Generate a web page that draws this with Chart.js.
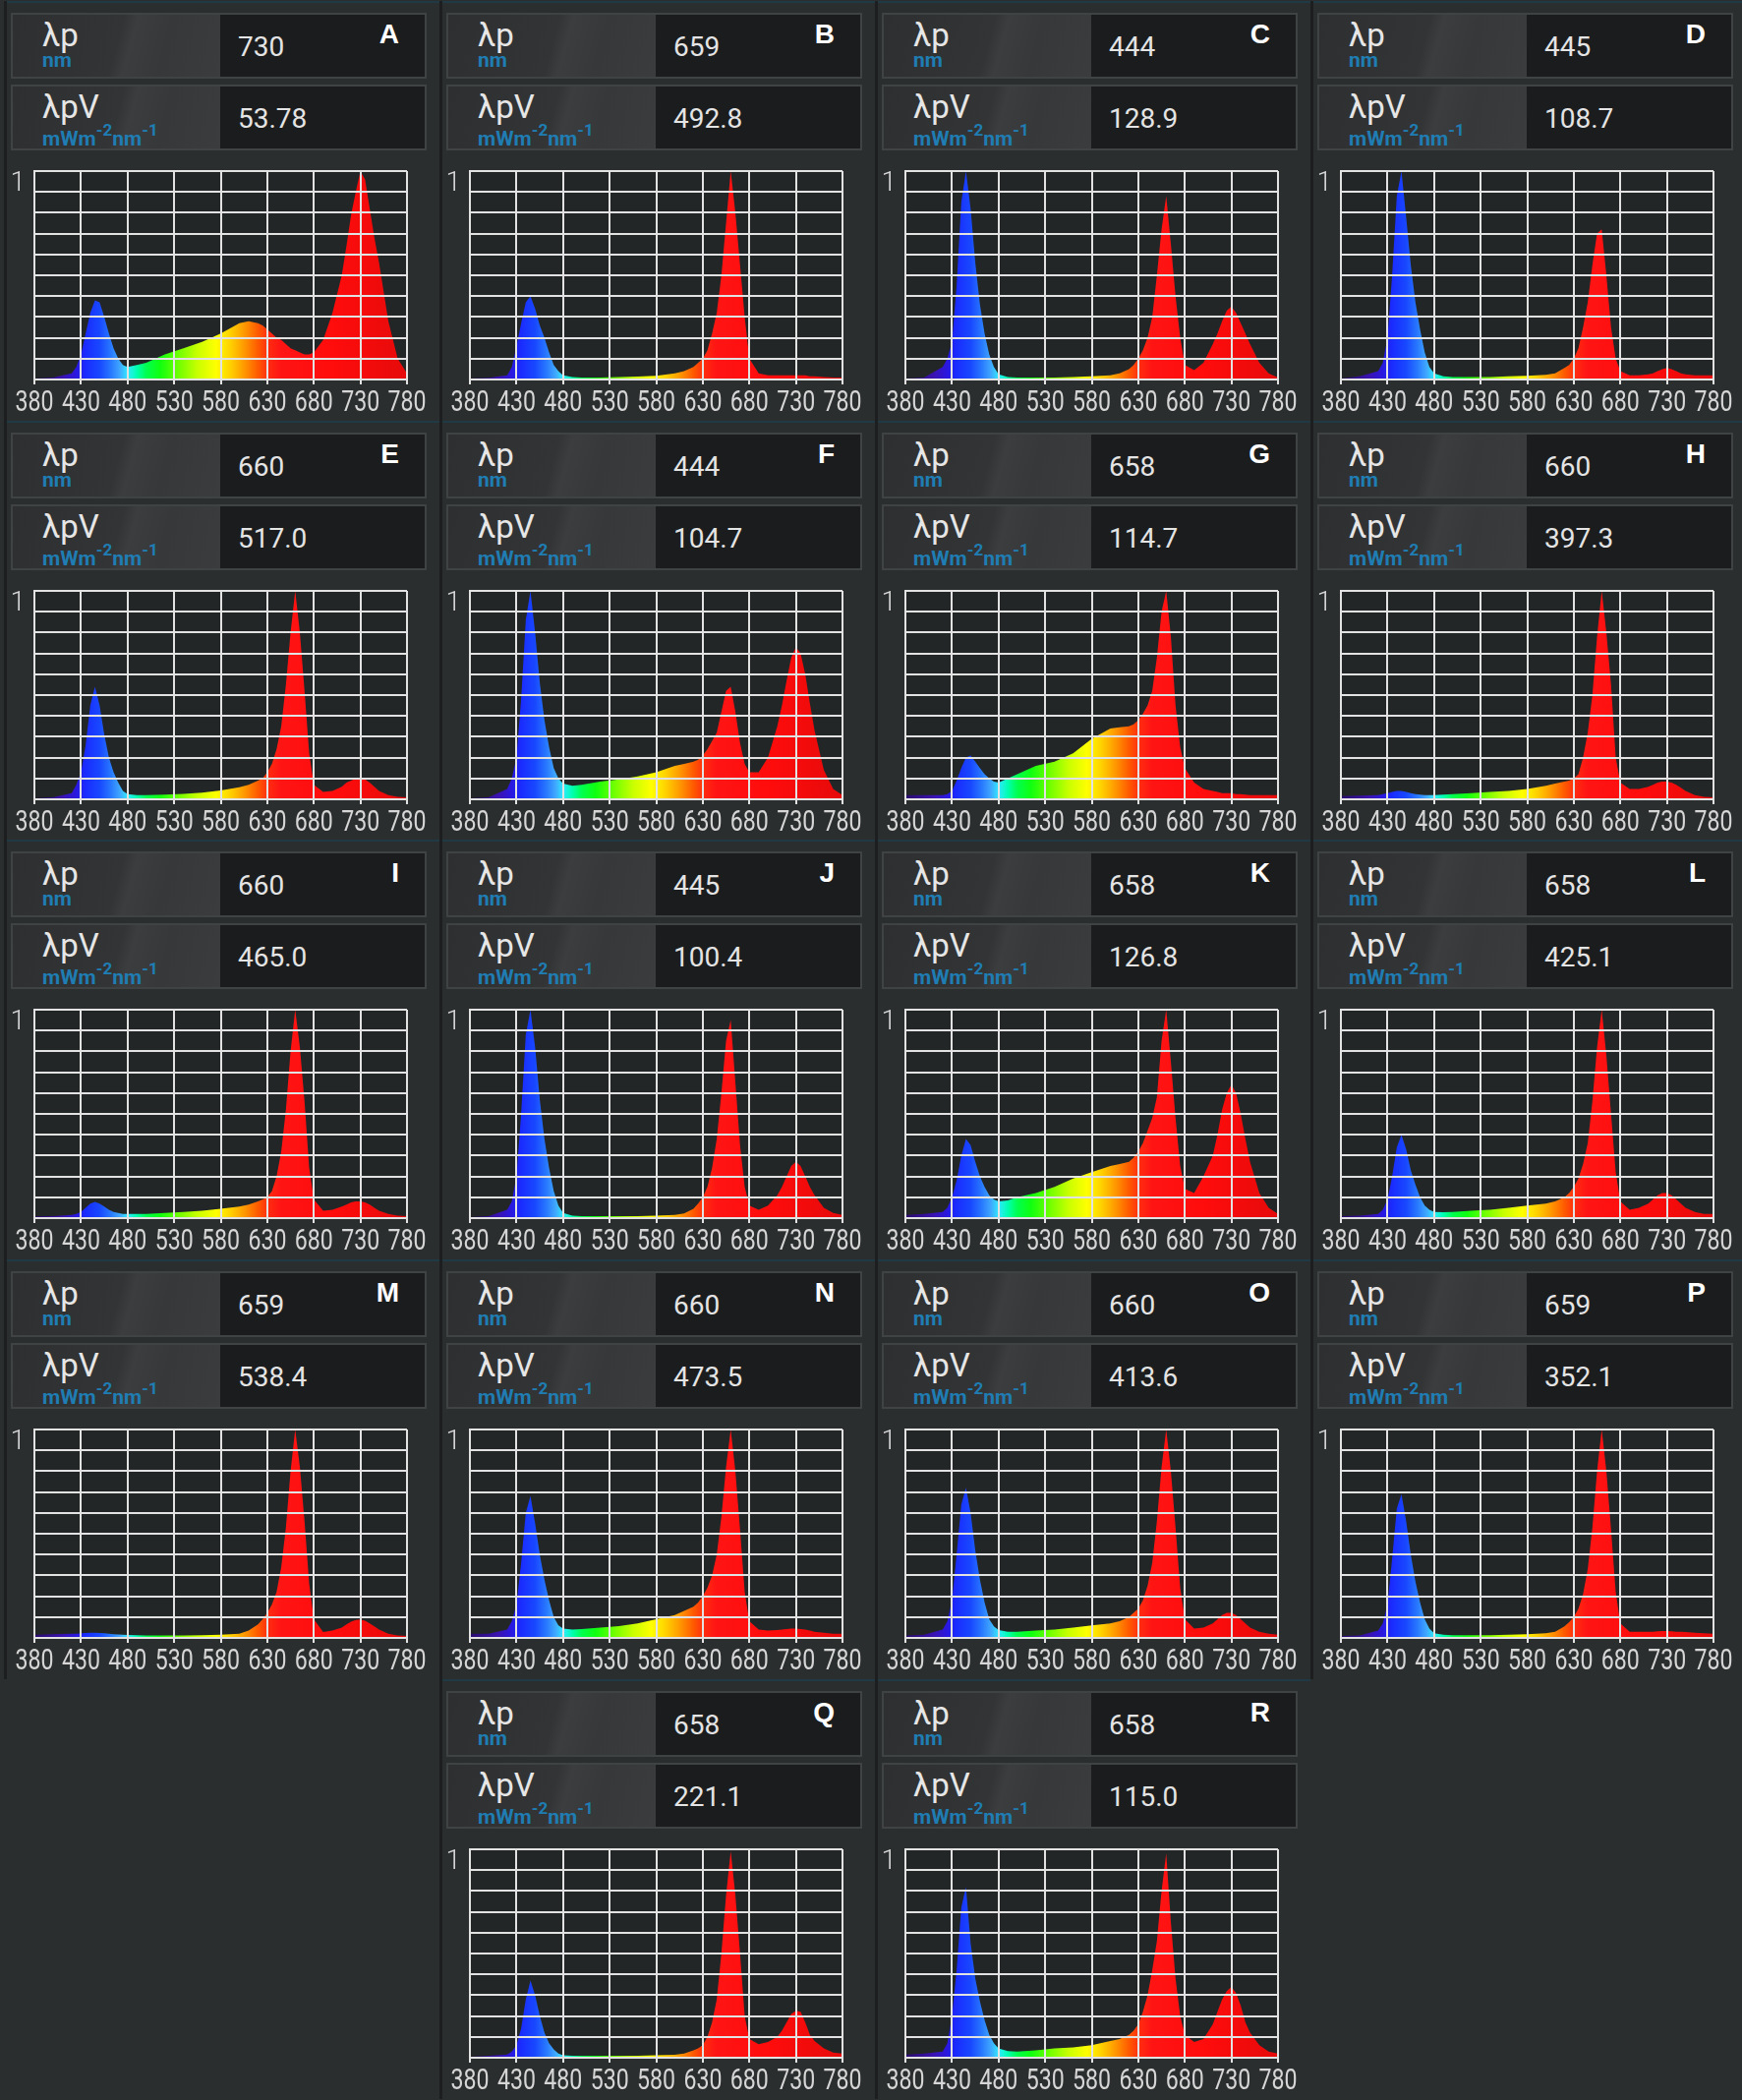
<!DOCTYPE html>
<html>
<head>
<meta charset="utf-8">
<title>LED spectra A-R</title>
<script src="https://cdn.jsdelivr.net/npm/chart.js@4.4.1/dist/chart.umd.min.js"></script>
<style>
  html, body { margin: 0; padding: 0; }
  body {
    width: 1772px; height: 2136px; position: relative; overflow: hidden;
    background: #2b2e2f; font-family: Roboto, "Liberation Sans", sans-serif;
  }
  .panel {
    position: absolute; width: 443px; height: 427px;
    box-shadow: inset 3px 0 0 #1c1e1f, inset 0 2px 0 #1f3a45;
  }
  .box {
    position: absolute; left: 7px; width: 423px; height: 67px; box-sizing: border-box;
    border: 2px solid #3f4344; background: #1b1c1d;
  }
  .box .lab {
    position: absolute; left: 0; top: 0; bottom: 0; width: 211px;
    background: linear-gradient(105deg, #2d2f30 0%, #323435 50%, #3b3d3e 56%, #36383a 72%, #3a3c3d 100%);
  }
  .sym { position: absolute; left: 30px; top: 4px; font-size: 33px; line-height: 1; color: #e6e6e6; white-space: nowrap; }
  .unit { position: absolute; left: 30px; top: 36px; font-size: 21px; line-height: 1; font-weight: bold; color: #1f7db3; white-space: nowrap; }
  .unit sup { font-size: 17px; vertical-align: 10px; line-height: 1; }
  .val { position: absolute; left: 229px; top: 19px; font-size: 28px; line-height: 1; color: #e4e4e4; }
  .letter { position: absolute; right: 26px; top: 6px; font: bold 28px "Liberation Sans", Arial, sans-serif; line-height: 1; color: #ffffff; }
  .plot { position: absolute; left: 0; top: 150px; width: 443px; height: 270px; }
</style>
</head>
<body>
<script>
// panel labels and header readings
const letters = ['A', 'B', 'C', 'D', 'E', 'F', 'G', 'H', 'I', 'J', 'K', 'L', 'M', 'N', 'O', 'P', 'Q', 'R'];
const peakNm = ['730', '659', '444', '445', '660', '444', '658', '660', '660', '445', '658', '658', '659', '660', '660', '659', '658', '658'];
const peakValue = ['53.78', '492.8', '128.9', '108.7', '517.0', '104.7', '114.7', '397.3', '465.0', '100.4', '126.8', '425.1', '538.4', '473.5', '413.6', '352.1', '221.1', '115.0'];

// axis ticks
const xTicks = [380, 430, 480, 530, 580, 630, 680, 730, 780];
const yTicks = [0, 0.1, 0.2, 0.3, 0.4, 0.5, 0.6, 0.7, 0.8, 0.9, 1];

// sample wavelengths (nm), shared by every spectrum
const wavelengths = [380, 400, 420,
    425, 430, 435, 440, 445, 450, 455, 460, 465, 470, 475, 480,
    490, 500, 520, 540, 560, 580, 600, 610, 620,
    625, 630, 635, 640, 645, 650, 655, 660, 665, 670, 675, 680,
    690, 700, 710,
    715, 720, 725, 730, 735, 740, 745, 750,
    760, 770, 780];

// relative spectral irradiance
const specA = [0.005, 0.01, 0.03,
    0.06, 0.12, 0.22, 0.32, 0.38, 0.37, 0.30, 0.22, 0.15, 0.10, 0.07, 0.06,
    0.07, 0.08, 0.12, 0.15, 0.18, 0.22, 0.27, 0.28, 0.27,
    0.26, 0.24, 0.22, 0.20, 0.19, 0.17, 0.15, 0.14, 0.13, 0.12, 0.12, 0.13,
    0.19, 0.32, 0.50,
    0.64, 0.79, 0.90, 1.00, 0.96, 0.82, 0.68, 0.56,
    0.28, 0.10, 0.03];
const specB = [0.005, 0.008, 0.02,
    0.06, 0.16, 0.27, 0.37, 0.40, 0.34, 0.26, 0.20, 0.13, 0.07, 0.04, 0.02,
    0.012, 0.01, 0.01, 0.012, 0.014, 0.018, 0.03, 0.04, 0.06,
    0.08, 0.10, 0.14, 0.22, 0.32, 0.50, 0.75, 1.00, 0.80, 0.55, 0.30, 0.10,
    0.03, 0.02, 0.02,
    0.02, 0.02, 0.02, 0.02, 0.02, 0.02, 0.015, 0.015,
    0.012, 0.01, 0.01];
const specC = [0.005, 0.01, 0.06,
    0.10, 0.18, 0.45, 0.85, 1.00, 0.82, 0.56, 0.36, 0.22, 0.12, 0.06, 0.025,
    0.012, 0.01, 0.01, 0.01, 0.012, 0.015, 0.02, 0.03, 0.05,
    0.07, 0.10, 0.14, 0.20, 0.30, 0.50, 0.72, 0.88, 0.65, 0.40, 0.20, 0.07,
    0.045, 0.08, 0.17,
    0.22, 0.28, 0.33, 0.35, 0.32, 0.27, 0.22, 0.17,
    0.08, 0.03, 0.01];
const specD = [0.005, 0.015, 0.04,
    0.08, 0.20, 0.50, 0.88, 1.00, 0.78, 0.55, 0.37, 0.24, 0.13, 0.06, 0.03,
    0.015, 0.012, 0.012, 0.012, 0.015, 0.018, 0.022, 0.03, 0.055,
    0.07, 0.10, 0.15, 0.25, 0.37, 0.55, 0.70, 0.72, 0.50, 0.25, 0.10, 0.04,
    0.02, 0.02, 0.025,
    0.03, 0.04, 0.05, 0.055, 0.05, 0.04, 0.03, 0.025,
    0.02, 0.02, 0.02];
const specE = [0.005, 0.01, 0.03,
    0.07, 0.13, 0.26, 0.45, 0.54, 0.45, 0.31, 0.20, 0.13, 0.08, 0.04, 0.025,
    0.02, 0.02, 0.022, 0.026, 0.032, 0.042, 0.058, 0.07, 0.09,
    0.10, 0.13, 0.17, 0.24, 0.35, 0.55, 0.80, 1.00, 0.80, 0.52, 0.22, 0.07,
    0.035, 0.04, 0.06,
    0.08, 0.09, 0.10, 0.10, 0.095, 0.08, 0.06, 0.04,
    0.02, 0.012, 0.01];
const specF = [0.005, 0.01, 0.05,
    0.10, 0.20, 0.48, 0.86, 1.00, 0.80, 0.56, 0.38, 0.25, 0.15, 0.10, 0.075,
    0.065, 0.07, 0.085, 0.095, 0.11, 0.13, 0.16, 0.17, 0.18,
    0.19, 0.21, 0.24, 0.28, 0.32, 0.42, 0.52, 0.54, 0.42, 0.27, 0.17, 0.13,
    0.13, 0.20, 0.35,
    0.45, 0.57, 0.68, 0.73, 0.70, 0.60, 0.46, 0.33,
    0.14, 0.05, 0.02];
const specG = [0.02, 0.02, 0.02,
    0.025, 0.04, 0.09, 0.15, 0.20, 0.21, 0.18, 0.15, 0.12, 0.10, 0.085, 0.08,
    0.10, 0.12, 0.16, 0.18, 0.22, 0.29, 0.34, 0.345, 0.35,
    0.36, 0.38, 0.41, 0.45, 0.52, 0.68, 0.90, 1.00, 0.78, 0.45, 0.25, 0.15,
    0.08, 0.05, 0.04,
    0.035, 0.03, 0.03, 0.03, 0.025, 0.025, 0.022, 0.02,
    0.02, 0.02, 0.02];
const specH = [0.015, 0.018, 0.02,
    0.025, 0.03, 0.035, 0.04, 0.04, 0.035, 0.03, 0.025, 0.022, 0.02, 0.02, 0.02,
    0.022, 0.025, 0.03, 0.035, 0.04, 0.05, 0.065, 0.075, 0.085,
    0.09, 0.10, 0.12, 0.20, 0.32, 0.50, 0.78, 1.00, 0.80, 0.55, 0.20, 0.08,
    0.05, 0.05, 0.06,
    0.07, 0.08, 0.085, 0.085, 0.08, 0.07, 0.055, 0.04,
    0.02, 0.012, 0.01];
const specI = [0.008, 0.01, 0.015,
    0.02, 0.03, 0.05, 0.07, 0.078, 0.07, 0.055, 0.04, 0.03, 0.025, 0.02, 0.02,
    0.02, 0.02, 0.025, 0.03, 0.035, 0.045, 0.055, 0.065, 0.08,
    0.09, 0.10, 0.13, 0.20, 0.32, 0.52, 0.80, 1.00, 0.82, 0.56, 0.24, 0.09,
    0.035, 0.04, 0.055,
    0.065, 0.075, 0.08, 0.08, 0.075, 0.065, 0.05, 0.035,
    0.02, 0.012, 0.01];
const specJ = [0.005, 0.01, 0.04,
    0.08, 0.20, 0.50, 0.88, 1.00, 0.82, 0.57, 0.38, 0.24, 0.13, 0.06, 0.025,
    0.012, 0.01, 0.01, 0.01, 0.01, 0.012, 0.015, 0.022, 0.045,
    0.07, 0.10, 0.15, 0.24, 0.38, 0.60, 0.85, 0.95, 0.65, 0.35, 0.15, 0.06,
    0.04, 0.06, 0.11,
    0.15, 0.20, 0.25, 0.27, 0.25, 0.20, 0.15, 0.11,
    0.05, 0.025, 0.015];
const specK = [0.015, 0.02, 0.03,
    0.05, 0.10, 0.18, 0.30, 0.38, 0.35, 0.27, 0.20, 0.15, 0.11, 0.09, 0.08,
    0.085, 0.10, 0.12, 0.15, 0.19, 0.22, 0.25, 0.26, 0.27,
    0.29, 0.32, 0.36, 0.42, 0.48, 0.58, 0.85, 1.00, 0.75, 0.48, 0.25, 0.14,
    0.12, 0.20, 0.30,
    0.40, 0.52, 0.60, 0.64, 0.60, 0.50, 0.38, 0.27,
    0.12, 0.05, 0.02];
const specL = [0.01, 0.012, 0.02,
    0.04, 0.09, 0.20, 0.34, 0.40, 0.33, 0.23, 0.16, 0.10, 0.06, 0.04, 0.03,
    0.028, 0.03, 0.035, 0.04, 0.05, 0.06, 0.07, 0.08, 0.10,
    0.12, 0.15, 0.19, 0.26, 0.36, 0.56, 0.82, 1.00, 0.78, 0.50, 0.22, 0.08,
    0.04, 0.05, 0.07,
    0.09, 0.11, 0.12, 0.12, 0.11, 0.09, 0.07, 0.05,
    0.03, 0.02, 0.02];
const specM = [0.015, 0.018, 0.02,
    0.02, 0.022, 0.024, 0.025, 0.025, 0.024, 0.022, 0.02, 0.018, 0.016, 0.015, 0.014,
    0.013, 0.012, 0.012, 0.012, 0.013, 0.015, 0.02, 0.035, 0.065,
    0.09, 0.12, 0.16, 0.22, 0.34, 0.53, 0.80, 1.00, 0.82, 0.56, 0.26, 0.09,
    0.028, 0.035, 0.05,
    0.065, 0.078, 0.086, 0.088, 0.083, 0.07, 0.055, 0.04,
    0.02, 0.012, 0.01];
const specN = [0.02, 0.02, 0.04,
    0.08, 0.16, 0.36, 0.60, 0.68, 0.55, 0.40, 0.28, 0.18, 0.10, 0.06, 0.045,
    0.04, 0.042, 0.05, 0.057, 0.07, 0.09, 0.11, 0.13, 0.15,
    0.17, 0.20, 0.24, 0.30, 0.40, 0.58, 0.82, 1.00, 0.80, 0.52, 0.22, 0.08,
    0.04, 0.035, 0.038,
    0.04, 0.043, 0.045, 0.045, 0.043, 0.04, 0.035, 0.03,
    0.025, 0.02, 0.02];
const specO = [0.012, 0.015, 0.04,
    0.08, 0.18, 0.40, 0.64, 0.72, 0.60, 0.42, 0.28, 0.17, 0.09, 0.055, 0.038,
    0.03, 0.03, 0.035, 0.04, 0.05, 0.06, 0.07, 0.08, 0.10,
    0.12, 0.14, 0.18, 0.25, 0.36, 0.56, 0.82, 1.00, 0.80, 0.53, 0.24, 0.09,
    0.045, 0.05, 0.07,
    0.09, 0.11, 0.12, 0.12, 0.11, 0.09, 0.07, 0.05,
    0.03, 0.02, 0.015];
const specP = [0.01, 0.012, 0.035,
    0.07, 0.16, 0.38, 0.62, 0.69, 0.56, 0.40, 0.27, 0.17, 0.09, 0.045, 0.022,
    0.015, 0.013, 0.013, 0.013, 0.015, 0.018, 0.022, 0.03, 0.055,
    0.075, 0.10, 0.14, 0.21, 0.33, 0.53, 0.80, 1.00, 0.80, 0.52, 0.22, 0.07,
    0.03, 0.03, 0.03,
    0.03, 0.032, 0.033, 0.033, 0.032, 0.03, 0.03, 0.028,
    0.025, 0.022, 0.02];
const specQ = [0.005, 0.01, 0.015,
    0.03, 0.06, 0.14, 0.28, 0.37, 0.30, 0.20, 0.12, 0.07, 0.04, 0.02, 0.012,
    0.01, 0.01, 0.01, 0.01, 0.01, 0.012, 0.014, 0.02, 0.035,
    0.045, 0.06, 0.10, 0.17, 0.28, 0.50, 0.78, 0.99, 0.78, 0.50, 0.20, 0.09,
    0.065, 0.075, 0.10,
    0.13, 0.17, 0.21, 0.225, 0.22, 0.17, 0.11, 0.08,
    0.045, 0.025, 0.02];
const specR = [0.015, 0.02, 0.03,
    0.07, 0.20, 0.42, 0.72, 0.82, 0.55, 0.38, 0.27, 0.18, 0.11, 0.07, 0.045,
    0.032, 0.03, 0.035, 0.045, 0.05, 0.06, 0.08, 0.09, 0.11,
    0.13, 0.16, 0.22, 0.30, 0.42, 0.56, 0.80, 0.98, 0.65, 0.38, 0.20, 0.11,
    0.075, 0.09, 0.16,
    0.22, 0.28, 0.32, 0.34, 0.31, 0.25, 0.17, 0.12,
    0.06, 0.03, 0.02];

const spectra = [specA, specB, specC, specD, specE, specF, specG, specH, specI,
    specJ, specK, specL, specM, specN, specO, specP, specQ, specR];

// colour of the fill under the curve, by wavelength
const spectrumStops = [
    [380, '#2a0c6a'], [410, '#3a12b0'], [425, '#2a18e0'], [435, '#1a2cff'],
    [450, '#1848ff'], [462, '#2878ff'], [472, '#40a8ff'], [480, '#30e8ff'],
    [490, '#00ffb0'], [500, '#00ff50'], [515, '#10ff10'], [535, '#70ff00'],
    [555, '#c8ff00'], [575, '#ffff00'], [590, '#ffd200'], [605, '#ff9a00'],
    [620, '#ff5a00'], [632, '#ff2a10'], [645, '#ff1414'], [700, '#ff0c0c'],
    [780, '#e60a0a']
];

const lineColor = '#e2e2e2';
const labelColor = '#d6d6d6';
const labelFamily = 'Roboto, "Liberation Sans", sans-serif';
const tickFont = { family: labelFamily, size: 28, weight: '300', lineHeight: 1 };

function spectrumFill(context) {
    const chart = context.chart;
    if (!chart.chartArea) return '#ff0000';
    const x = chart.scales.x;
    const x0 = x.getPixelForValue(380);
    const x1 = x.getPixelForValue(780);
    const g = chart.ctx.createLinearGradient(x0, 0, x1, 0);
    spectrumStops.forEach(function (s) {
        g.addColorStop((s[0] - 380) / 400, s[1]);
    });
    return g;
}

const plotBackground = {
    id: 'plotBackground',
    beforeDraw: function (chart) {
        const a = chart.chartArea;
        chart.ctx.save();
        chart.ctx.fillStyle = '#232626';
        chart.ctx.fillRect(a.left, a.top, a.right - a.left, a.bottom - a.top);
        chart.ctx.restore();
    }
};

// the wavelength labels are tall and narrow: draw the axis ticks squeezed horizontally
const narrowXLabels = {
    id: 'narrowXLabels',
    afterDraw: function (chart) {
        const scale = chart.scales.x;
        const ctx = chart.ctx;
        const y = chart.chartArea.bottom + 25;
        ctx.save();
        ctx.font = '29px ' + labelFamily;
        ctx.fillStyle = labelColor;
        ctx.textAlign = 'center';
        ctx.textBaseline = 'middle';
        scale.ticks.forEach(function (t) {
            const text = String(t.value);
            const sx = Math.min(1, 39 / ctx.measureText(text).width);
            ctx.save();
            ctx.translate(scale.getPixelForValue(t.value), y);
            ctx.scale(sx, 1);
            ctx.fillText(text, 0, 0);
            ctx.restore();
        });
        ctx.restore();
    }
};

function headerBox(top, symHtml, unitHtml, value, letter) {
    let html = '<div class="box" style="top:' + top + 'px"><div class="lab"></div>' +
        '<div class="sym">' + symHtml + '</div>' +
        '<div class="unit">' + unitHtml + '</div>' +
        '<div class="val">' + value + '</div>';
    if (letter) html += '<div class="letter">' + letter + '</div>';
    return html + '</div>';
}

letters.forEach(function (letter, i) {
    // 4 x 4 grid, then Q and R centred in the last row
    const col = i < 16 ? i % 4 : i - 15;
    const row = i < 16 ? Math.floor(i / 4) : 4;

    const panel = document.createElement('div');
    panel.className = 'panel';
    panel.style.left = (4 + col * 443) + 'px';
    panel.style.top = Math.round(1 + row * 426.7) + 'px';
    panel.innerHTML =
        headerBox(12, 'λp', 'nm', peakNm[i], letter) +
        headerBox(85, 'λpV', 'mWm<sup>-2</sup>nm<sup>-1</sup>', peakValue[i], '') +
        '<div class="plot"><canvas></canvas></div>';
    document.body.appendChild(panel);

    const spec = spectra[i];
    const ctx = panel.querySelector('canvas').getContext('2d');
    new Chart(ctx, {
        type: 'line',
        data: {
            datasets: [{
                data: wavelengths.map(function (w, k) { return { x: w, y: spec[k] }; }),
                fill: 'origin',
                backgroundColor: spectrumFill,
                borderWidth: 0,
                pointRadius: 0,
                tension: 0
            }]
        },
        options: {
            responsive: true,
            maintainAspectRatio: false,
            animation: false,
            events: [],
            layout: { padding: { left: 0, right: 33, top: 16, bottom: 0 } },
            plugins: {
                legend: { display: false },
                tooltip: { enabled: false }
            },
            scales: {
                x: {
                    type: 'linear',
                    min: 380,
                    max: 780,
                    afterBuildTicks: function (scale) {
                        scale.ticks = xTicks.map(function (v) { return { value: v }; });
                    },
                    afterFit: function (scale) { scale.height = 35; },
                    grid: { color: lineColor, lineWidth: 2, z: 1, drawTicks: true, tickLength: 5, tickColor: lineColor },
                    border: { display: true, color: lineColor, width: 2, z: 1 },
                    ticks: { display: false, font: tickFont, autoSkip: false, maxRotation: 0 }
                },
                y: {
                    type: 'linear',
                    min: 0,
                    max: 1,
                    afterBuildTicks: function (scale) {
                        scale.ticks = yTicks.map(function (v) { return { value: v }; });
                    },
                    afterFit: function (scale) { scale.width = 31; },
                    grid: { color: lineColor, lineWidth: 2, z: 1, drawTicks: false },
                    border: { display: true, color: lineColor, width: 2, z: 1 },
                    ticks: {
                        color: labelColor,
                        font: tickFont,
                        padding: 9,
                        labelOffset: 13,
                        autoSkip: false,
                        callback: function (v) { return v === 1 ? '1' : ''; }
                    }
                }
            }
        },
        plugins: [plotBackground, narrowXLabels]
    });
});
</script>
</body>
</html>
